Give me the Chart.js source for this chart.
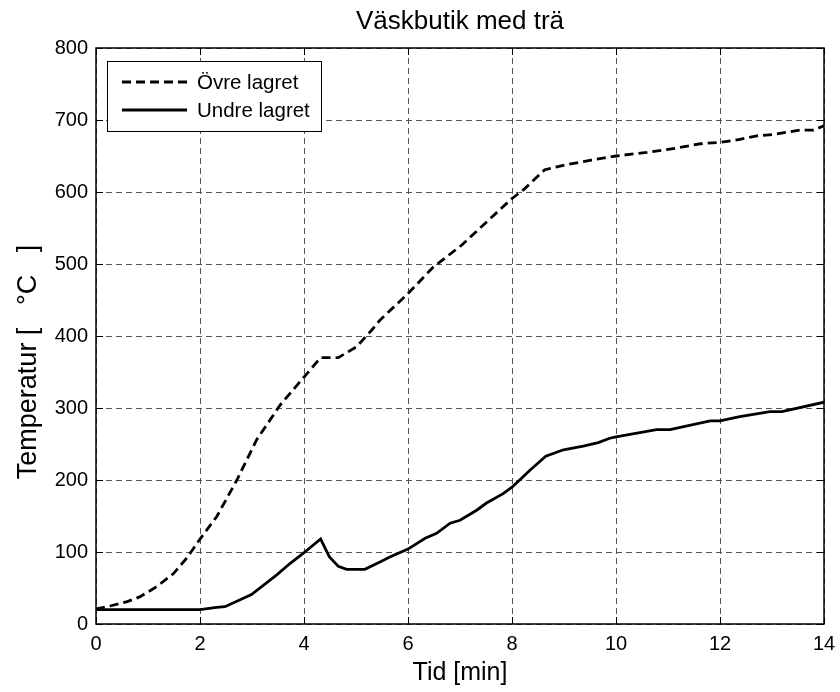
<!DOCTYPE html>
<html>
<head>
<meta charset="utf-8">
<script src="https://cdn.jsdelivr.net/npm/chart.js@4/dist/chart.umd.min.js"></script>
<style>
  html, body { margin: 0; padding: 0; background: #fff; }
  #wrap { width: 840px; height: 692px; }
</style>
</head>
<body>
<div id="wrap"><canvas id="chart" width="840" height="692"></canvas></div>
<script>
// Temperatures in the store, upper and lower gas layer
const chartTitle = 'Väskbutik med trä';
const xTitle = 'Tid [min]';
const yTitle = 'Temperatur [   °C   ]';
const seriesLabels = ['Övre lagret', 'Undre lagret'];

const timeUpper = [0, 0.27, 0.6, 0.85, 1.17, 1.49, 1.75, 2.0, 2.32, 2.71, 3.09, 3.54, 4.0, 4.32,
  4.66, 5.01, 5.3, 5.46, 6.0, 6.49, 7.03, 7.58, 8.0, 8.22, 8.63, 8.99, 9.5, 10.0, 10.59, 11.17,
  11.62, 12.0, 12.38, 12.71, 13.03, 13.54, 13.8, 14.0];
const tempUpper = [21, 25, 31, 38, 52, 70, 92, 118, 149, 200, 256, 304, 343, 370,
  370, 385, 408, 422, 459, 496, 526, 563, 591, 603, 631, 637, 644, 650, 655, 661,
  667, 669, 673, 678, 680, 686, 686, 692];

const timeLower = [0, 2.0, 2.32, 2.48, 2.99, 3.47, 3.73, 4.0, 4.32, 4.49, 4.66, 4.82, 5.17, 5.46,
  5.65, 6.0, 6.33, 6.55, 6.81, 7.0, 7.32, 7.51, 7.83, 8.0, 8.35, 8.65, 8.99, 9.37, 9.66, 9.88,
  10.0, 10.78, 11.04, 11.81, 12.0, 12.38, 12.96, 13.19, 14.0];
const tempLower = [20, 20, 23, 24, 41, 68, 84, 99, 118, 93, 80, 76, 76, 86,
  93, 104, 119, 126, 140, 144, 158, 168, 181, 190, 214, 233, 242, 247, 252, 258,
  260, 270, 270, 282, 282, 288, 295, 295, 308];

const xTicks = [0, 2, 4, 6, 8, 10, 12, 14];
const yTicks = [0, 100, 200, 300, 400, 500, 600, 700, 800];

const FONT = 'Liberation Sans, Arial, Helvetica, sans-serif';

function toPoints(xs, ys) {
  return xs.map((x, i) => ({ x: x, y: ys[i] }));
}

// box, inward ticks, titles and legend drawn on top of the chart area
const frame = {
  id: 'frame',
  afterDraw(chart) {
    const { ctx, chartArea: a, scales } = chart;
    ctx.save();

    ctx.strokeStyle = '#000';
    ctx.lineWidth = 1.5;
    ctx.setLineDash([]);
    ctx.strokeRect(a.left, a.top, a.right - a.left, a.bottom - a.top);

    const tl = 7;
    ctx.lineWidth = 1;
    ctx.beginPath();
    xTicks.forEach(v => {
      const px = Math.round(scales.x.getPixelForValue(v)) + 0.5;
      ctx.moveTo(px, a.bottom); ctx.lineTo(px, a.bottom - tl);
      ctx.moveTo(px, a.top); ctx.lineTo(px, a.top + tl);
    });
    yTicks.forEach(v => {
      const py = Math.round(scales.y.getPixelForValue(v)) + 0.5;
      ctx.moveTo(a.left, py); ctx.lineTo(a.left + tl, py);
      ctx.moveTo(a.right, py); ctx.lineTo(a.right - tl, py);
    });
    ctx.stroke();

    ctx.fillStyle = '#000';
    ctx.textAlign = 'center';
    ctx.textBaseline = 'middle';
    ctx.font = '26px ' + FONT;
    ctx.fillText(chartTitle, (a.left + a.right) / 2, 22);

    ctx.font = '25px ' + FONT;
    ctx.fillText(xTitle, (a.left + a.right) / 2, 673);

    ctx.save();
    ctx.translate(29, 362);
    ctx.rotate(-Math.PI / 2);
    ctx.font = '27px ' + FONT;
    ctx.fillText(yTitle, 0, 0);
    ctx.restore();

    // legend
    const lx = 107.5, ly = 61.5, lw = 214, lh = 70;
    ctx.fillStyle = '#fff';
    ctx.fillRect(lx, ly, lw, lh);
    ctx.strokeStyle = '#000';
    ctx.lineWidth = 1;
    ctx.strokeRect(lx, ly, lw, lh);

    const rows = [82, 110];
    chart.data.datasets.forEach((ds, i) => {
      ctx.beginPath();
      ctx.lineWidth = ds.borderWidth;
      ctx.setLineDash(ds.borderDash || []);
      ctx.moveTo(122, rows[i]);
      ctx.lineTo(187, rows[i]);
      ctx.stroke();
      ctx.setLineDash([]);
      ctx.fillStyle = '#000';
      ctx.textAlign = 'left';
      ctx.font = '20.5px ' + FONT;
      ctx.fillText(ds.label, 197, rows[i] + 1);
    });

    ctx.restore();
  }
};

new Chart(document.getElementById('chart'), {
  type: 'line',
  data: {
    datasets: [
      {
        label: seriesLabels[0],
        data: toPoints(timeUpper, tempUpper),
        borderColor: '#000',
        borderWidth: 2.8,
        borderDash: [9, 5],
        pointRadius: 0,
        tension: 0
      },
      {
        label: seriesLabels[1],
        data: toPoints(timeLower, tempLower),
        borderColor: '#000',
        borderWidth: 2.8,
        pointRadius: 0,
        tension: 0
      }
    ]
  },
  options: {
    responsive: false,
    animation: false,
    layout: { padding: { top: 48, right: 16, left: 0, bottom: 0 } },
    plugins: {
      legend: { display: false },
      title: { display: false },
      tooltip: { enabled: false }
    },
    scales: {
      x: {
        type: 'linear',
        min: 0,
        max: 14,
        afterFit(scale) {
          scale.height = 68;
          scale.paddingLeft = 0;
          scale.paddingRight = 0;
        },
        afterBuildTicks(scale) { scale.ticks = xTicks.map(v => ({ value: v })); },
        grid: { color: '#555', lineWidth: 1, drawTicks: false },
        border: { display: false, dash: [6, 4] },
        ticks: { color: '#000', padding: 8, font: { family: FONT, size: 20 }, maxRotation: 0 }
      },
      y: {
        type: 'linear',
        min: 0,
        max: 800,
        afterFit(scale) {
          scale.width = 96;
          scale.paddingTop = 0;
          scale.paddingBottom = 0;
        },
        afterBuildTicks(scale) { scale.ticks = yTicks.map(v => ({ value: v })); },
        grid: { color: '#555', lineWidth: 1, drawTicks: false },
        border: { display: false, dash: [6, 4] },
        ticks: { color: '#000', padding: 8, font: { family: FONT, size: 20 } }
      }
    }
  },
  plugins: [frame]
});
</script>
</body>
</html>
